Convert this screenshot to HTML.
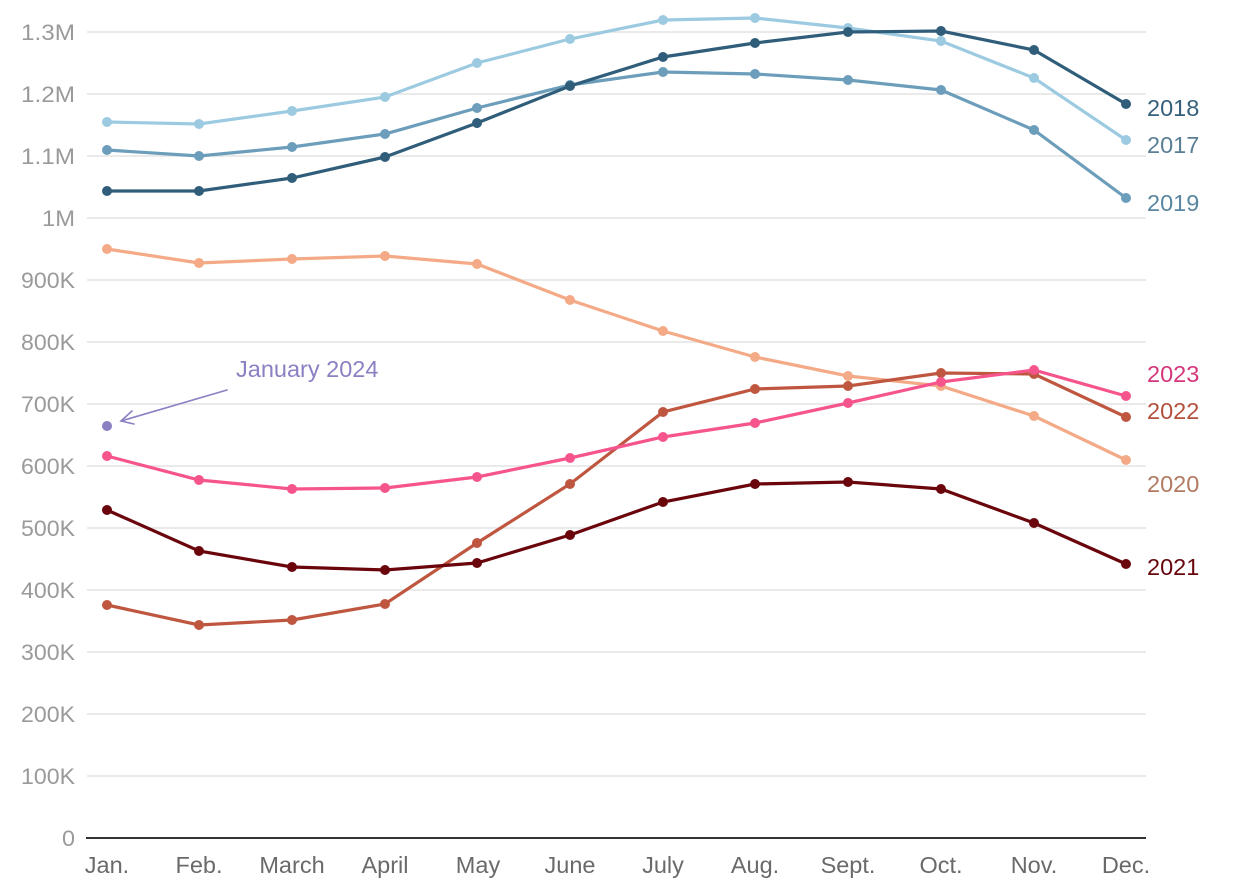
<!DOCTYPE html>
<html><head><meta charset="utf-8"><style>
html,body{margin:0;padding:0;background:#fff;}
svg{display:block;}
text{font-family:"Liberation Sans",sans-serif;}
</style></head><body>
<svg width="1240" height="888" viewBox="0 0 1240 888" xmlns="http://www.w3.org/2000/svg">
<rect width="1240" height="888" fill="#fff"/>
<g stroke="#e4e4e4" stroke-width="1.5">
<line x1="87" x2="1146" y1="32" y2="32"/>
<line x1="87" x2="1146" y1="94" y2="94"/>
<line x1="87" x2="1146" y1="156" y2="156"/>
<line x1="87" x2="1146" y1="218" y2="218"/>
<line x1="87" x2="1146" y1="280" y2="280"/>
<line x1="87" x2="1146" y1="342" y2="342"/>
<line x1="87" x2="1146" y1="404" y2="404"/>
<line x1="87" x2="1146" y1="466" y2="466"/>
<line x1="87" x2="1146" y1="528" y2="528"/>
<line x1="87" x2="1146" y1="590" y2="590"/>
<line x1="87" x2="1146" y1="652" y2="652"/>
<line x1="87" x2="1146" y1="714" y2="714"/>
<line x1="87" x2="1146" y1="776" y2="776"/>
</g>
<line x1="86" x2="1146" y1="838" y2="838" stroke="#333" stroke-width="2"/>
<g fill="#9a9a9a" font-size="22">
<text x="21" y="40" textLength="54" lengthAdjust="spacingAndGlyphs">1.3M</text>
<text x="21" y="102" textLength="54" lengthAdjust="spacingAndGlyphs">1.2M</text>
<text x="21" y="164" textLength="54" lengthAdjust="spacingAndGlyphs">1.1M</text>
<text x="42" y="226" textLength="33" lengthAdjust="spacingAndGlyphs">1M</text>
<text x="21" y="288" textLength="54" lengthAdjust="spacingAndGlyphs">900K</text>
<text x="21" y="350" textLength="54" lengthAdjust="spacingAndGlyphs">800K</text>
<text x="21" y="412" textLength="54" lengthAdjust="spacingAndGlyphs">700K</text>
<text x="21" y="474" textLength="54" lengthAdjust="spacingAndGlyphs">600K</text>
<text x="21" y="536" textLength="54" lengthAdjust="spacingAndGlyphs">500K</text>
<text x="21" y="598" textLength="54" lengthAdjust="spacingAndGlyphs">400K</text>
<text x="21" y="660" textLength="54" lengthAdjust="spacingAndGlyphs">300K</text>
<text x="21" y="722" textLength="54" lengthAdjust="spacingAndGlyphs">200K</text>
<text x="21" y="784" textLength="54" lengthAdjust="spacingAndGlyphs">100K</text>
<text x="62" y="846" textLength="13" lengthAdjust="spacingAndGlyphs">0</text>
</g>
<g fill="#6a6a6a" font-size="23.5" text-anchor="middle">
<text x="107" y="873">Jan.</text>
<text x="199" y="873">Feb.</text>
<text x="292" y="873">March</text>
<text x="385" y="873">April</text>
<text x="478" y="873">May</text>
<text x="570" y="873">June</text>
<text x="663" y="873">July</text>
<text x="755" y="873">Aug.</text>
<text x="848" y="873">Sept.</text>
<text x="941" y="873">Oct.</text>
<text x="1034" y="873">Nov.</text>
<text x="1126" y="873">Dec.</text>
</g>

<!-- 2020 -->
<g stroke="#f4aa86" fill="#f4aa86">
<polyline fill="none" stroke-width="3.2" points="107,249 199,263 292,259 385,256 477,264 570,300 663,331 755,357 848,376 941,386 1034,416 1126,460"/>
<g stroke="none"><circle cx="107" cy="249" r="5"/><circle cx="199" cy="263" r="5"/><circle cx="292" cy="259" r="5"/><circle cx="385" cy="256" r="5"/><circle cx="477" cy="264" r="5"/><circle cx="570" cy="300" r="5"/><circle cx="663" cy="331" r="5"/><circle cx="755" cy="357" r="5"/><circle cx="848" cy="376" r="5"/><circle cx="941" cy="386" r="5"/><circle cx="1034" cy="416" r="5"/><circle cx="1126" cy="460" r="5"/></g>
</g>
<!-- 2017 -->
<g stroke="#9ccae0" fill="#9ccae0">
<polyline fill="none" stroke-width="3.2" points="107,122 199,124 292,111 385,97 477,63 570,39 663,20 755,18 848,28 941,41 1034,78 1126,140"/>
<g stroke="none"><circle cx="107" cy="122" r="5"/><circle cx="199" cy="124" r="5"/><circle cx="292" cy="111" r="5"/><circle cx="385" cy="97" r="5"/><circle cx="477" cy="63" r="5"/><circle cx="570" cy="39" r="5"/><circle cx="663" cy="20" r="5"/><circle cx="755" cy="18" r="5"/><circle cx="848" cy="28" r="5"/><circle cx="941" cy="41" r="5"/><circle cx="1034" cy="78" r="5"/><circle cx="1126" cy="140" r="5"/></g>
</g>
<!-- 2019 -->
<g stroke="#6c9dba" fill="#6c9dba">
<polyline fill="none" stroke-width="3.2" points="107,150 199,156 292,147 385,134 477,108 570,85 663,72 755,74 848,80 941,90 1034,130 1126,198"/>
<g stroke="none"><circle cx="107" cy="150" r="5"/><circle cx="199" cy="156" r="5"/><circle cx="292" cy="147" r="5"/><circle cx="385" cy="134" r="5"/><circle cx="477" cy="108" r="5"/><circle cx="570" cy="85" r="5"/><circle cx="663" cy="72" r="5"/><circle cx="755" cy="74" r="5"/><circle cx="848" cy="80" r="5"/><circle cx="941" cy="90" r="5"/><circle cx="1034" cy="130" r="5"/><circle cx="1126" cy="198" r="5"/></g>
</g>
<!-- 2018 -->
<g stroke="#2f5d7a" fill="#2f5d7a">
<polyline fill="none" stroke-width="3.2" points="107,191 199,191 292,178 385,157 477,123 570,86 663,57 755,43 848,32 941,31 1034,50 1126,104"/>
<g stroke="none"><circle cx="107" cy="191" r="5"/><circle cx="199" cy="191" r="5"/><circle cx="292" cy="178" r="5"/><circle cx="385" cy="157" r="5"/><circle cx="477" cy="123" r="5"/><circle cx="570" cy="86" r="5"/><circle cx="663" cy="57" r="5"/><circle cx="755" cy="43" r="5"/><circle cx="848" cy="32" r="5"/><circle cx="941" cy="31" r="5"/><circle cx="1034" cy="50" r="5"/><circle cx="1126" cy="104" r="5"/></g>
</g>
<!-- 2022 -->
<g stroke="#bf5640" fill="#bf5640">
<polyline fill="none" stroke-width="3.2" points="107,605 199,625 292,620 385,604 477,543 570,484 663,412 755,389 848,386 941,373 1034,374 1126,417"/>
<g stroke="none"><circle cx="107" cy="605" r="5"/><circle cx="199" cy="625" r="5"/><circle cx="292" cy="620" r="5"/><circle cx="385" cy="604" r="5"/><circle cx="477" cy="543" r="5"/><circle cx="570" cy="484" r="5"/><circle cx="663" cy="412" r="5"/><circle cx="755" cy="389" r="5"/><circle cx="848" cy="386" r="5"/><circle cx="941" cy="373" r="5"/><circle cx="1034" cy="374" r="5"/><circle cx="1126" cy="417" r="5"/></g>
</g>
<!-- 2023 -->
<g stroke="#f5558c" fill="#f5558c">
<polyline fill="none" stroke-width="3.2" points="107,456 199,480 292,489 385,488 477,477 570,458 663,437 755,423 848,403 941,382 1034,370 1126,396"/>
<g stroke="none"><circle cx="107" cy="456" r="5"/><circle cx="199" cy="480" r="5"/><circle cx="292" cy="489" r="5"/><circle cx="385" cy="488" r="5"/><circle cx="477" cy="477" r="5"/><circle cx="570" cy="458" r="5"/><circle cx="663" cy="437" r="5"/><circle cx="755" cy="423" r="5"/><circle cx="848" cy="403" r="5"/><circle cx="941" cy="382" r="5"/><circle cx="1034" cy="370" r="5"/><circle cx="1126" cy="396" r="5"/></g>
</g>
<!-- 2021 -->
<g stroke="#6a050c" fill="#6a050c">
<polyline fill="none" stroke-width="3.2" points="107,510 199,551 292,567 385,570 477,563 570,535 663,502 755,484 848,482 941,489 1034,523 1126,564"/>
<g stroke="none"><circle cx="107" cy="510" r="5"/><circle cx="199" cy="551" r="5"/><circle cx="292" cy="567" r="5"/><circle cx="385" cy="570" r="5"/><circle cx="477" cy="563" r="5"/><circle cx="570" cy="535" r="5"/><circle cx="663" cy="502" r="5"/><circle cx="755" cy="484" r="5"/><circle cx="848" cy="482" r="5"/><circle cx="941" cy="489" r="5"/><circle cx="1034" cy="523" r="5"/><circle cx="1126" cy="564" r="5"/></g>
</g>

<!-- January 2024 -->
<circle cx="107" cy="426" r="5" fill="#8a80c2"/>
<g stroke="#8a80c2" stroke-width="1.6" fill="none" stroke-linecap="round">
<line x1="227" y1="390" x2="121" y2="421"/>
<polyline points="132,411 121,421 134,424"/>
</g>
<text x="236" y="377" font-size="23.5" fill="#8a80c2">January 2024</text>

<g font-size="23.5">
<text x="1147" y="116" fill="#355f7b">2018</text>
<text x="1147" y="153" fill="#5a7f95">2017</text>
<text x="1147" y="211" fill="#5a86a0">2019</text>
<text x="1147" y="382" fill="#d4367a">2023</text>
<text x="1147" y="419" fill="#b4513d">2022</text>
<text x="1147" y="492" fill="#b07a63">2020</text>
<text x="1147" y="575" fill="#67060c">2021</text>
</g>
</svg>
</body></html>
